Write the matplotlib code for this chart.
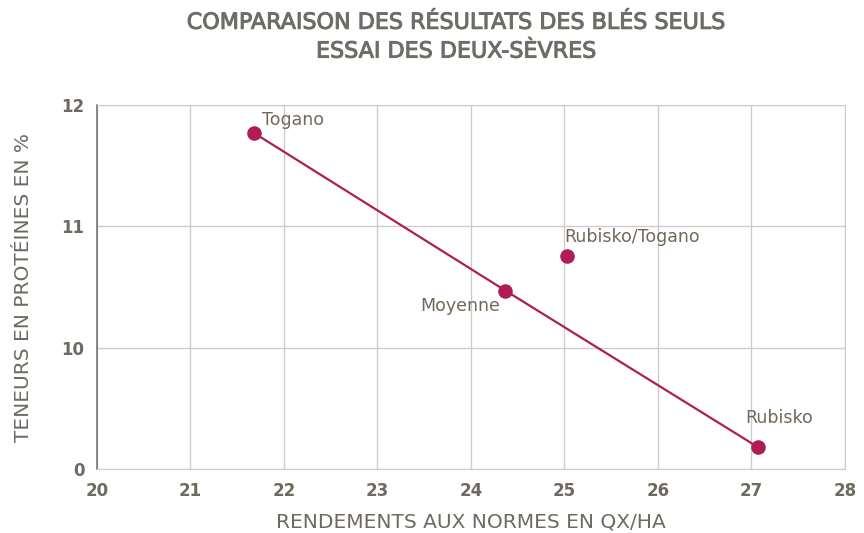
import numpy as np
import matplotlib.pyplot as plt
import matplotlib.patheffects as pe

############################# DATA ###################################
varieties = ['Togano', 'Moyenne', 'Rubisko/Togano', 'Rubisko']
yields = [21.68, 24.37, 25.03, 27.07]
proteins = [11.77, 10.47, 10.755, 9.18]
trend_names = ['Togano', 'Moyenne', 'Rubisko']

x_ticks = [20, 21, 22, 23, 24, 25, 26, 27, 28]
y_ticks = [9, 10, 11, 12]
y_tick_labels = ['0', '10', '11', '12']

############################# STYLE ###################################
plt.rcParams['font.family'] = ['DejaVu Sans']
dot_color = '#b01d55'
text_color = '#6e6a62'
label_color = '#72675b'
grid_color = '#cccccc'

fig = plt.figure(figsize=(8.64, 5.33), dpi=100)
ax = fig.add_axes([0.112, 0.12, 0.866, 0.683])

# trend line through Togano, Moyenne, Rubisko
tx = [yields[varieties.index(n)] for n in trend_names]
ty = [proteins[varieties.index(n)] for n in trend_names]
ax.plot(tx, ty, color=dot_color, lw=1.6, zorder=3)
ax.scatter(yields, proteins, s=110, color=dot_color, zorder=4, linewidths=0)

# label offsets in pixels (dx, dy, ha)
offsets = {'Togano': (8, 13, 'left'),
           'Moyenne': (-5, -15, 'right'),
           'Rubisko/Togano': (-3, 19, 'left'),
           'Rubisko': (-13, 29, 'left')}
for name, x, y in zip(varieties, yields, proteins):
    dx, dy, ha = offsets[name]
    ax.annotate(name, (x, y), xytext=(dx, dy), textcoords='offset pixels',
                ha=ha, va='center', fontsize=12.5, color=label_color)

ax.set_xlim(20, 28)
ax.set_ylim(9, 12)
ax.set_xticks(x_ticks)
ax.set_yticks(y_ticks)
ax.set_yticklabels(y_tick_labels)
ax.grid(True, color=grid_color, lw=1)
ax.set_axisbelow(True)
ax.tick_params(length=0, labelsize=12, colors=text_color, pad=9)
for lab in ax.get_xticklabels() + ax.get_yticklabels():
    lab.set_fontweight('bold')

for side in ['top', 'right', 'bottom']:
    ax.spines[side].set_color(grid_color)
ax.spines['left'].set_color('#77776f')
ax.spines['left'].set_linewidth(1.2)

ax.set_xlabel('RENDEMENTS AUX NORMES EN QX/HA', fontsize=14.5,
              color=text_color, labelpad=9)
ax.set_ylabel('TENEURS EN PROTÉINES EN %', fontsize=14.5,
              color=text_color, labelpad=20)

fig.text(0.528, 0.976, 'COMPARAISON DES RÉSULTATS DES BLÉS SEULS\nESSAI DES DEUX-SÈVRES',
         ha='center', va='top', fontsize=16, color='#6d6d66', linespacing=1.55,
         path_effects=[pe.withStroke(linewidth=0.7, foreground='#6d6d66')])

plt.savefig('out.png', dpi=100)
